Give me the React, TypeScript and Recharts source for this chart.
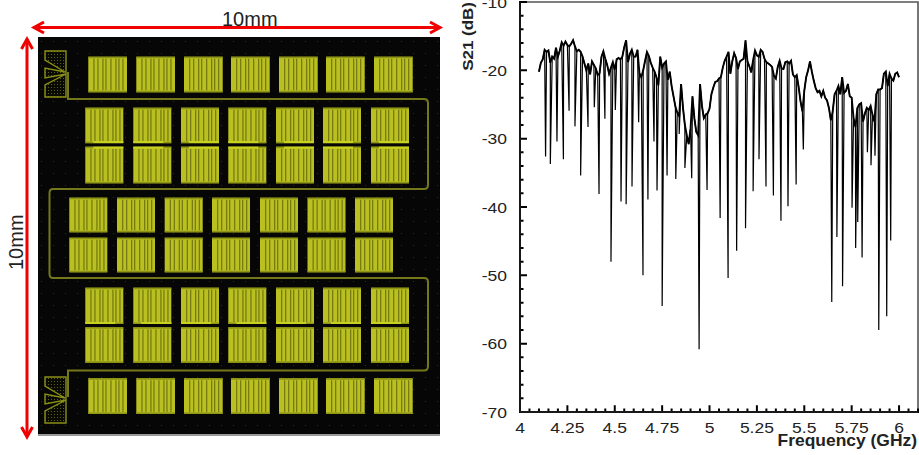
import { Label, Line, LineChart, XAxis, YAxis } from 'recharts';

// S21 trace, one reading per 10 MHz starting at 4.10 GHz
const START_GHZ = 4.1;
const baseS21 = [
  -20.2, -18.9, -18.4, -17.0, -17.3, -17.1, -18.9, -18.0, -18.3, -16.7,
  -18.0, -17.1, -15.9, -16.4, -15.8, -16.3, -16.5, -16.1, -15.6, -16.5,
  -17.2, -17.0, -17.3, -18.0, -19.0, -20.0, -19.0, -20.6, -18.7, -19.2,
  -19.7, -20.7, -20.4, -18.0, -17.2, -18.3, -19.2, -20.5, -19.6, -18.8,
  -19.9, -18.4, -18.2, -18.4, -18.0, -16.6, -15.6, -18.8, -17.6, -17.0,
  -18.0, -18.0, -17.0, -20.4, -21.0, -20.0, -18.6, -17.3, -17.9, -18.9,
  -19.6, -20.2, -21.0, -22.2, -18.0, -19.6, -19.0, -18.7, -21.4, -20.2,
  -22.3, -23.8, -25.3, -26.2, -26.7, -22.0, -25.5, -28.0, -29.5, -30.8,
  -28.5, -23.8, -27.0, -29.0, -29.5, -22.0, -25.2, -27.0, -26.5, -26.3,
  -25.6, -23.5, -22.5, -21.7, -21.6, -21.2, -21.0, -19.6, -18.6, -18.0,
  -17.3, -20.5, -18.7, -17.5, -18.2, -19.8, -18.7, -18.5, -18.3, -15.6,
  -18.7, -19.4, -20.3, -18.5, -17.1, -17.8, -18.0, -17.0, -17.3, -18.3,
  -18.8, -19.0, -19.2, -19.5, -20.8, -21.2, -19.5, -18.6, -19.7, -19.8,
  -18.8, -18.7, -19.0, -18.6, -20.6, -21.0, -20.7, -22.4, -24.5, -26.0,
  -23.0, -21.0, -20.0, -18.7, -20.2, -21.5, -22.6, -23.2, -23.0, -23.8,
  -23.0, -24.0, -24.4, -25.5, -27.3, -26.0, -23.5, -23.0, -22.3, -23.5,
  -21.0, -23.3, -23.0, -22.0, -23.8, -24.0, -27.0, -28.3, -25.5, -25.0,
  -24.8, -27.5, -26.3, -25.5, -25.8, -25.2, -26.5, -27.5, -23.5, -22.8,
  -22.8, -22.6, -20.5, -20.2, -22.3, -20.5, -21.2, -21.5, -20.5, -20.3,
  -21.0,
];

// resonance dips
const dipFreq = [
  4.135, 4.16, 4.195, 4.229, 4.259, 4.29, 4.32, 4.359, 4.392, 4.417, 4.448, 4.48, 4.503,
  4.533, 4.56, 4.591, 4.626, 4.649, 4.675, 4.707, 4.723, 4.75, 4.776, 4.822, 4.84, 4.87,
  4.906, 4.945, 4.987, 5.056, 5.098, 5.143, 5.19, 5.23, 5.261, 5.298, 5.337, 5.377, 5.414,
  5.457, 5.495, 5.645, 5.672, 5.702, 5.752, 5.771, 5.782, 5.805, 5.833, 5.852, 5.873,
  5.893, 5.935, 5.956,
];
const dipS21 = [
  -32.6, -33.7, -30.4, -33.0, -25.9, -28.2, -35.4, -28.3, -25.4, -38.1, -27.1, -48.0, -25.8,
  -39.2, -39.6, -37.0, -27.6, -50.0, -38.9, -30.4, -37.6, -54.5, -35.4, -35.9, -29.3, -34.3,
  -35.8, -60.8, -37.5, -41.6, -50.4, -46.4, -43.1, -37.7, -33.0, -37.0, -38.3, -42.0, -39.9,
  -36.7, -31.6, -53.9, -44.4, -51.6, -40.1, -46.0, -42.2, -47.4, -32.0, -33.9, -32.5,
  -58.0, -56.0, -44.9,
];

const majorFreq = [4, 4.25, 4.5, 4.75, 5, 5.25, 5.5, 5.75, 6];
const majorS21 = [-70, -60, -50, -40, -30, -20, -10];
const freqTicks = Array.from({ length: 43 }, (_, i) => +(4 + i * 0.05).toFixed(2));
const s21Ticks = Array.from({ length: 31 }, (_, i) => -70 + i * 2);

const data = [
  ...baseS21.map((s21, i) => ({ freq: +(START_GHZ + i * 0.01).toFixed(2), s21, band: s21 })),
  ...dipFreq.map((freq, i) => ({ freq, s21: dipS21[i] })),
].sort((a, b) => a.freq - b.freq);

// inward tick marks, run along each axis as a comb
const freqComb = freqTicks.flatMap((freq) => [
  { freq, tickX: -70 },
  { freq, tickX: majorFreq.includes(freq) ? -69 : -69.5 },
  { freq, tickX: -70 },
]);
const s21Comb = s21Ticks.flatMap((tickY) => [
  { freq: 4, tickY },
  { freq: majorS21.includes(tickY) ? 4.037 : 4.0185, tickY },
  { freq: 4, tickY },
]);
// top and right edge of the frame
const frameEdge = [
  { freq: 4, edge: -10 },
  { freq: 6.1, edge: -10 },
  { freq: 6.1, edge: -70 },
];

const FONT = '"Liberation Sans", Arial, sans-serif';

const FreqTick = ({ x, y, payload }: any) =>
  majorFreq.includes(payload.value) ? (
    <text transform={`translate(${x} ${y + 19}) scale(1.13 1)`} textAnchor="middle" fontSize={15.5} fontFamily={FONT} fill="#222">
      {payload.value}
    </text>
  ) : (
    <g />
  );

const S21Tick = ({ x, y, payload }: any) =>
  majorS21.includes(payload.value) ? (
    <text transform={`translate(${x - 11} ${y + 5.5}) scale(1.13 1)`} textAnchor="end" fontSize={15.5} fontFamily={FONT} fill="#222">
      {payload.value}
    </text>
  ) : (
    <g />
  );

// chip photo on the left
const row1X = [88.3, 136.3, 184, 231, 279, 326, 374];
const row2X = [85.3, 133.3, 181, 228.3, 276, 323, 371];
const row3X = [69.3, 117, 164.7, 212, 260, 307.5, 355];
const stripes = [5, 9, 14, 17, 22, 27, 30, 34];

const Pad = ({ x, y, w, h }: { x: number; y: number; w: number; h: number }) => (
  <g>
    <rect x={x} y={y} width={w} height={h} fill="#b9c020" />
    {stripes.map((s) => (
      <rect key={s} x={x + s} y={y + 2} width={1.3} height={h - 4} fill="#777c12" />
    ))}
    <rect x={x} y={y} width={w} height={1.5} fill="#8e9416" />
    <rect x={x} y={y + h - 1.5} width={w} height={1.5} fill="#8e9416" />
  </g>
);

const LaunchPad = ({ x, y }: { x: number; y: number }) => (
  <path
    d={`M${x + 21} ${y} L${x} ${y} L${x} ${y + 9} L${x + 20} ${y + 21} L${x} ${y + 17} L${x} ${y + 27} L${x + 21} ${y + 23} L${x} ${y + 34} L${x} ${y + 46} L${x + 21} ${y + 46} Z`}
    fill="url(#chip-mesh)"
    stroke="#8a8f16"
    strokeWidth={1.4}
  />
);

const ChipPhoto = () => (
  <svg width={460} height={455} style={{ position: 'absolute', left: 0, top: 0 }}>
    <defs>
      <pattern id="chip-dots" width="12" height="12" patternUnits="userSpaceOnUse">
        <rect x="5" y="5" width="1" height="1" fill="#2b2b2b" />
      </pattern>
      <pattern id="chip-mesh" width="3" height="3" patternUnits="userSpaceOnUse">
        <rect width="3" height="3" fill="#0a0a04" />
        <rect width="1" height="1" fill="#5c5f10" />
      </pattern>
    </defs>
    <rect x={38} y={37} width={402} height={398} fill="#060606" />
    <rect x={38} y={37} width={402} height={398} fill="url(#chip-dots)" />
    <rect x={38} y={434} width={402} height={2} fill="#999" />
    <path
      d="M68 72 L68 99 L424 99 Q428 99 428 103 L428 185 Q428 189 424 189 L53 189 Q49.5 189 49.5 193 L49.5 274 Q49.5 278 53 278 L424 278 Q428 278 428 282 L428 366 Q428 370.5 424 370.5 L68 370.5 L68 397"
      fill="none"
      stroke="#74781a"
      strokeWidth={2}
    />
    <LaunchPad x={45} y={51} />
    <LaunchPad x={45} y={377} />
    {row1X.map((x) => (
      <g key={x}>
        <Pad x={x} y={56.7} w={38.7} h={35.6} />
        <Pad x={x} y={378.3} w={38.7} h={35.6} />
      </g>
    ))}
    {row2X.map((x, i) => (
      <g key={x}>
        <Pad x={x} y={107.7} w={38} h={35.5} />
        <rect x={x + (i % 2 ? 0 : 8)} y={141} width={30} height={2} fill="#c8d020" />
        <Pad x={x} y={146.7} w={38} h={36.6} />
        <rect x={x + (i % 2 ? 0 : 8)} y={146.7} width={30} height={2} fill="#c8d020" />
        <Pad x={x} y={287.7} w={38} h={36.3} />
        <rect x={x + (i % 2 ? 8 : 0)} y={322} width={30} height={2} fill="#c8d020" />
        <Pad x={x} y={327.3} w={38} h={35.4} />
      </g>
    ))}
    {row3X.map((x) => (
      <g key={x}>
        <Pad x={x} y={197.7} w={38} h={34.6} />
        <Pad x={x} y={237.7} w={38} h={34.6} />
      </g>
    ))}
    <g stroke="#f00000" strokeWidth={3} fill="none">
      <path d="M33 27.5 L440 27.5" />
      <path d="M44 22 L34 27.5 L44 33" />
      <path d="M430 22 L440 27.5 L430 33" />
      <path d="M27 39 L27 436" />
      <path d="M21.5 49 L27 39 L32.5 49" />
      <path d="M21.5 427 L27 437 L32.5 427" />
    </g>
    <text x={222} y={26} fontSize={20} fontFamily={FONT} fill="#222">
      10mm
    </text>
    <text x={23} y={270} fontSize={20} fontFamily={FONT} fill="#222" transform="rotate(-90 23 270)">
      10mm
    </text>
  </svg>
);

export default function App() {
  return (
    <div style={{ position: 'absolute', left: 0, top: 0, width: 919, height: 455, background: '#fff', overflow: 'hidden' }}>
      <ChipPhoto />
      <div style={{ position: 'absolute', left: 460, top: 0 }}>
        <LineChart width={459} height={455} data={data} margin={{ top: 2, right: 1, bottom: 42, left: 59 }}>
          <XAxis
            dataKey="freq"
            type="number"
            domain={[4, 6.1]}
            ticks={freqTicks}
            interval={0}
            height={1}
            tickSize={0}
            tickLine={false}
            tick={FreqTick}
            stroke="#222"
            strokeWidth={1.4}
          >
            <Label
              content={() => (
                <text transform="translate(457 446) scale(1.09 1)" textAnchor="end" fontSize={16} fontWeight="bold" fontFamily={FONT} fill="#222">
                  Frequency (GHz)
                </text>
              )}
            />
          </XAxis>
          <YAxis
            type="number"
            domain={[-70, -10]}
            ticks={s21Ticks}
            interval={0}
            width={1}
            tickSize={0}
            tickLine={false}
            tick={S21Tick}
            stroke="#222"
            strokeWidth={1.4}
          >
            <Label
              content={() => (
                <text transform="translate(13 2) rotate(-90) scale(1.13 1)" textAnchor="end" fontSize={15} fontWeight="bold" fontFamily={FONT} fill="#222">
                  S21 (dB)
                </text>
              )}
            />
          </YAxis>
          <Line data={frameEdge} dataKey="edge" stroke="#555" strokeWidth={1.6} dot={false} isAnimationActive={false} />
          <Line data={freqComb} dataKey="tickX" stroke="#000" strokeWidth={2} dot={false} isAnimationActive={false} />
          <Line data={s21Comb} dataKey="tickY" stroke="#000" strokeWidth={2} dot={false} isAnimationActive={false} />
          <Line dataKey="band" type="linear" connectNulls stroke="#000" strokeWidth={1.9} dot={false} isAnimationActive={false} />
          <Line dataKey="s21" type="linear" stroke="#000" strokeWidth={1.2} dot={false} isAnimationActive={false} />
        </LineChart>
      </div>
    </div>
  );
}
